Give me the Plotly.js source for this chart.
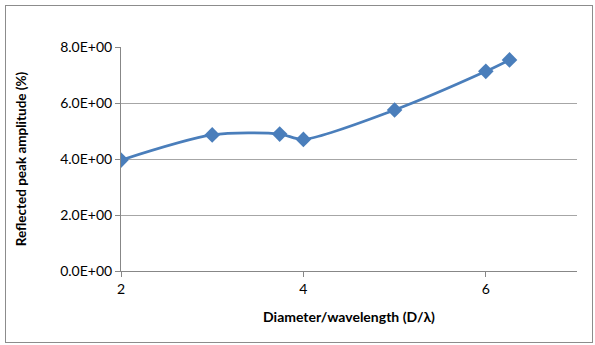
<!DOCTYPE html>
<html>
<head>
<meta charset="utf-8">
<script src="https://cdn.plot.ly/plotly-3.0.1.min.js"></script>
<style>
  html, body { margin: 0; padding: 0; background: #fff; }
  #wrap { position: relative; width: 595px; height: 345px; }
  #chart { position: absolute; left: 0; top: 0; width: 595px; height: 345px; }
  #frame { position: absolute; left: 5px; top: 5px; width: 586px; height: 336px;
           border: 1px solid #8c8c8c; pointer-events: none; }
</style>
</head>
<body>
<div id="wrap">
  <div id="chart"></div>
  <div id="frame"></div>
</div>
<script>
const diameterRatio = [2, 3, 3.74, 4, 5, 6, 6.26];
const peakAmplitude = [3.96, 4.86, 4.89, 4.70, 5.75, 7.13, 7.54];
const yTickValues = [0, 2, 4, 6, 8];
const xTickValues = [2, 4, 6];

function sciLabel(v) {
  const s = v.toExponential(1).toUpperCase();
  const parts = s.split('E');
  const sign = parts[1][0] === '-' ? '-' : '+';
  const exp = parts[1].replace(/^[+-]/, '').padStart(2, '0');
  return parts[0] + 'E' + sign + exp;
}

const fontFam = 'Lato, "Open Sans", sans-serif';

const trace = {
  x: diameterRatio,
  y: peakAmplitude,
  type: 'scatter',
  mode: 'lines+markers',
  line: { color: '#4a7ebb', width: 2.75, shape: 'spline', smoothing: 0.8 },
  marker: { symbol: 'diamond', size: 12, color: '#4a7ebb' },
  hoverinfo: 'x+y'
};

const layout = {
  width: 595, height: 345,
  margin: { l: 121, r: 18, t: 47, b: 74 },
  paper_bgcolor: '#fff', plot_bgcolor: '#fff',
  showlegend: false,
  font: { family: fontFam, color: '#000', size: 14 },
  xaxis: {
    range: [2, 7],
    tickvals: xTickValues,
    ticktext: xTickValues.map(String),
    showgrid: false,
    zeroline: false,
    showline: true, linecolor: '#878787', linewidth: 1,
    ticks: 'outside', ticklen: 5, tickcolor: '#878787',
    tickfont: { family: fontFam, size: 14, color: '#000' },
    title: { text: 'Diameter/wavelength (D/λ)', font: { family: fontFam, size: 14, color: '#000', weight: 'bold' }, standoff: 16 }
  },
  yaxis: {
    range: [0, 8],
    tickvals: yTickValues,
    ticktext: yTickValues.map(sciLabel),
    showgrid: true, gridcolor: '#a6a6a6', gridwidth: 1,
    zeroline: false,
    showline: true, linecolor: '#878787', linewidth: 1,
    ticks: 'outside', ticklen: 5, tickcolor: '#878787',
    tickfont: { family: fontFam, size: 14, color: '#000' },
    title: { text: 'Reflected peak amplitude (%)', font: { family: fontFam, size: 13.5, color: '#000', weight: 'bold' }, standoff: 30 }
  }
};

Plotly.newPlot('chart', [trace], layout, { displayModeBar: false, staticPlot: true });
</script>
</body>
</html>
